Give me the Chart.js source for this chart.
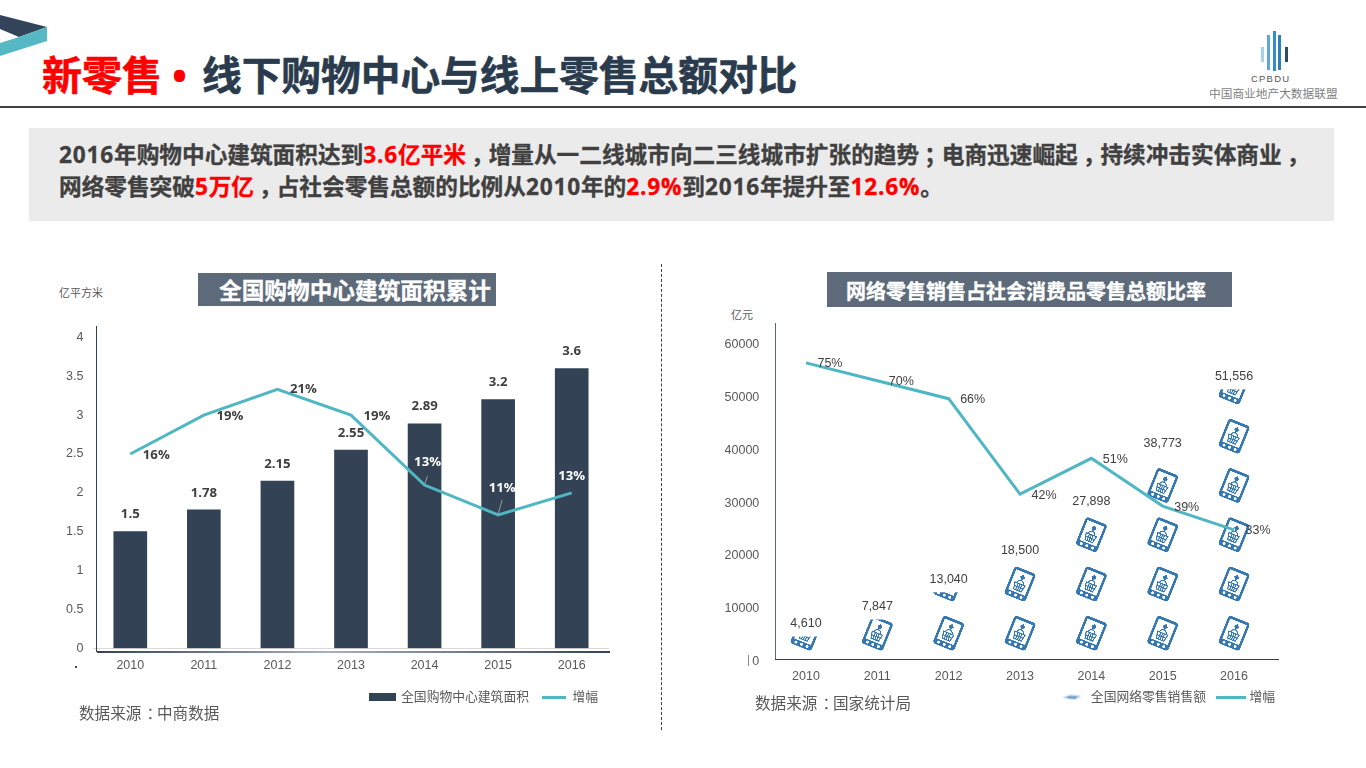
<!DOCTYPE html>
<html lang="zh"><head><meta charset="utf-8">
<script src="https://cdn.jsdelivr.net/npm/chart.js@4"></script>
<style>
html,body{margin:0;padding:0;background:#fff;width:1366px;height:768px;overflow:hidden}
body{position:relative;font-family:"Liberation Sans","Noto Sans CJK SC",sans-serif}
.a{position:absolute;white-space:nowrap}
canvas{position:absolute}
.cjk{font-family:"Open Sans","Noto Sans CJK SC",sans-serif}
.red{color:#ff0000;-webkit-text-stroke:.3px #ff0000}
.b{-webkit-text-stroke:.3px #404040}
.n{letter-spacing:.8px}
.p{position:relative;left:5px}
</style></head><body>
<svg class="a" style="left:0;top:0" width="60" height="60"><polygon points="0,15 47,27 19,37 0,29" fill="#33445a"/><polygon points="47,27 47,41 0,56 0,43 19,37" fill="#55b8c4"/></svg>
<div class="a cjk" style="left:42px;top:47px;font-size:40px;line-height:56px;font-weight:700;color:#ff0000;-webkit-text-stroke:.6px #ff0000">新零售</div>
<div class="a cjk" style="left:172px;top:47px;font-size:40px;line-height:56px;font-weight:700;color:#ff0000">•</div>
<div class="a cjk" style="left:202px;top:47px;font-size:39.7px;line-height:56px;font-weight:700;color:#2a3b4d;-webkit-text-stroke:.6px #2a3b4d">线下购物中心与线上零售总额对比</div>
<div class="a" style="left:0;top:106px;width:1366px;height:2px;background:#404040"></div>

<div class="a" style="left:1261px;top:47px;width:3px;height:15px;background:#a6d2f0"></div>
<div class="a" style="left:1267px;top:35px;width:3px;height:35px;background:#5aa6dd"></div>
<div class="a" style="left:1273px;top:31px;width:3px;height:40px;background:#2f8dd0"></div>
<div class="a" style="left:1278px;top:35px;width:3px;height:35px;background:#2f7fb8"></div>
<div class="a" style="left:1285px;top:47px;width:3px;height:15px;background:#2d4c6a"></div>
<div class="a" style="left:1251px;top:73px;font-size:9.5px;line-height:12px;letter-spacing:1.2px;color:#555">CPBDU</div>
<div class="a cjk" style="left:1209px;top:85px;font-size:11.7px;line-height:16px;color:#7f7f7f">中国商业地产大数据联盟</div>

<div class="a" style="left:29px;top:128px;width:1305px;height:93px;background:#ebebeb"></div>
<div class="a cjk b" style="left:59px;top:138px;font-size:22.67px;line-height:34px;font-weight:700;color:#404040"><span class="n">2016</span>年购物中心建筑面积达到<span class="red"><span class="n">3.6</span>亿平米</span><span class="p">，</span>增量从一二线城市向二三线城市扩张的趋势<span class="p">；</span>电商迅速崛起<span class="p">，</span>持续冲击实体商业<span class="p">，</span></div>
<div class="a cjk b" style="left:59px;top:170px;font-size:22.67px;line-height:34px;font-weight:700;color:#404040">网络零售突破<span class="red"><span class="n">5</span>万亿</span><span class="p">，</span>占社会零售总额的比例从<span class="n">2010</span>年的<span class="red"><span class="n">2.9%</span></span>到<span class="n">2016</span>年提升至<span class="red"><span class="n">12.6%</span></span>。</div>

<div class="a cjk" style="left:198px;top:273px;width:298px;height:33px;padding-left:16px;box-sizing:border-box;background:#5c6a7a;color:#fff;font-size:22.67px;line-height:36px;font-weight:700;text-align:center;-webkit-text-stroke:.3px #fff">全国购物中心建筑面积累计</div>
<div class="a cjk" style="left:827px;top:272px;width:405px;height:35px;padding-right:7px;box-sizing:border-box;background:#5c6a7a;color:#fff;font-size:20px;line-height:39px;font-weight:700;text-align:center;-webkit-text-stroke:.3px #fff">网络零售销售占社会消费品零售总额比率</div>

<div class="a cjk" style="left:59px;top:285px;font-size:11px;line-height:16px;color:#595959">亿平方米</div>
<div class="a cjk" style="left:731px;top:307px;font-size:11px;line-height:16px;color:#595959">亿元</div>

<canvas id="left" width="600" height="400" style="left:40px;top:320px"></canvas>
<canvas id="right" width="620" height="400" style="left:700px;top:320px"></canvas>

<div class="a" style="left:96px;top:326px;width:1px;height:326px;background:#2f4054"></div>
<div class="a" style="left:97px;top:651px;width:513px;height:2px;background:linear-gradient(90deg,#33445a,#a9b1bb 45%,#33445a)"></div>
<div class="a" style="left:75px;top:666px;width:2px;height:2px;background:#444"></div>
<div class="a" style="left:775px;top:323px;width:1px;height:337px;background:#5c6a7a"></div>
<div class="a" style="left:775px;top:659px;width:504px;height:1px;background:#2f4054"></div>
<div class="a" style="left:748px;top:655px;width:1px;height:11px;background:#8a8a8a"></div>
<div class="a" style="left:661px;top:264px;height:466px;border-left:1px dashed #404040"></div>

<div class="a cjk" style="left:79px;top:702px;font-size:15.6px;line-height:22px;color:#595959">数据来源<span class="p">：</span>中商数据</div>
<div class="a cjk" style="left:755px;top:692px;font-size:15.6px;line-height:22px;color:#595959">数据来源<span class="p">：</span>国家统计局</div>

<script>
const years = ['2010','2011','2012','2013','2014','2015','2016'];
const mallArea = [1.5,1.78,2.15,2.55,2.89,3.2,3.6];
const mallGrowth = [16,19,21,19,13.6,11.3,13];
const mallGrowthLabels = ['16%','19%','21%','19%','13%','11%','13%'];
const onlineSales = [4610,7847,13040,18500,27898,38773,51556];
const onlineShare = [75,70.5,66,42,51,39,33];
const onlineShareLabels = ['75%','70%','66%','42%','51%','39%','33%'];
const mallLegend = ['全国购物中心建筑面积','增幅'];
const onlineLegend = ['全国网络零售销售额','增幅'];

const DARK='#334254', TEAL='#4fb7c3', INK='#404040', TICK='#595959', BLUE='#3577b1';
const FONT='"Liberation Sans","Noto Sans CJK SC",sans-serif';
const BOLD='"Open Sans","Noto Sans CJK SC",sans-serif';
Chart.defaults.animation=false;
Chart.defaults.font.family=FONT;

function phone(g,color){
  g.save();g.rotate(22*Math.PI/180);
  g.fillStyle=color;g.beginPath();g.roundRect(-11.5,-15,23,30,3);g.fill();
  g.fillStyle='#fff';g.fillRect(-9,-12.2,18,21.4);
  g.beginPath();for(const x of [-6,0,6]){g.moveTo(x+1.5,12);g.arc(x,12,1.5,0,7);}g.fill();
  g.fillStyle=color;
  g.beginPath();g.moveTo(0,-10);g.lineTo(2.6,-7);g.lineTo(0,-3.5);g.lineTo(-2.6,-7);g.closePath();g.fill();
  g.strokeStyle=color;g.lineWidth=1.1;
  g.beginPath();g.moveTo(-5.5,0);g.lineTo(5.5,0);g.lineTo(4,7);g.lineTo(-4,7);g.closePath();g.stroke();
  g.beginPath();g.moveTo(-2,0);g.lineTo(-2,7);g.moveTo(0,0);g.lineTo(0,7);g.moveTo(2,0);g.lineTo(2,7);g.moveTo(-5,3.5);g.lineTo(5,3.5);g.stroke();
  g.beginPath();g.arc(0,0,3.5,Math.PI,0);g.stroke();
  g.restore();
}
const S=4,TW=286,TH=197;
const tile=document.createElement('canvas');tile.width=TW;tile.height=TH;
{const g=tile.getContext('2d');g.scale(S,S);g.translate(TW/S/2,TH/S-28);
 phone(g,BLUE);g.translate(0,49.25);phone(g,BLUE);}
const phonePattern=tile.getContext('2d').createPattern(tile,'repeat');

function swatch(w,h,draw){const c=document.createElement('canvas');c.width=w;c.height=h;draw(c.getContext('2d'));return c;}
const rectIcon=swatch(27,8,g=>{g.fillStyle=DARK;g.fillRect(0,0,27,8);});
const lineIconS=swatch(24,3,g=>{g.fillStyle=TEAL;g.fillRect(0,0,24,3);});
const lineIconL=swatch(30,3,g=>{g.fillStyle=TEAL;g.fillRect(0,0,30,3);});
const phoneIcon=swatch(20,6,g=>{g.fillStyle='#a9c6e3';g.beginPath();g.moveTo(0,3);g.lineTo(8,.5);g.lineTo(19,1.5);g.lineTo(12,5.5);g.closePath();g.fill();g.fillStyle=BLUE;g.fillRect(5,2.5,9,1);});

const patternAlign={id:'patternAlign',beforeDatasetsDraw(chart){
  if(!chart.options.plugins.patternAlign.on)return;
  const m=chart.getDatasetMeta(1).data,a=chart.chartArea;
  const step=(a.right-a.left)/years.length;
  phonePattern.setTransform(new DOMMatrix().translate(m[0].x-step/2,m[0].base-TH/S).scale(step/TW,1/S));
}};
const valueLabels={id:'valueLabels',afterDatasetsDraw(chart,_,o){
  const g=chart.ctx,bars=chart.getDatasetMeta(1).data,line=chart.getDatasetMeta(0).data;
  g.save();g.textAlign='center';g.textBaseline='middle';
  bars.forEach((b,i)=>{g.font=o.barFont;g.fillStyle=INK;g.fillText(o.barText[i],b.x,b.y+o.barDy);});
  line.forEach((p,i)=>{const[dx,dy,c]=o.lineOffsets[i];
    if(o.leaders&&o.leaders[i]){g.strokeStyle='#9a9a9a';g.lineWidth=1;g.beginPath();g.moveTo(p.x,p.y-1);g.lineTo(p.x+o.leaders[i][0],p.y+o.leaders[i][1]);g.stroke();}
    g.font=o.lineFont;g.fillStyle=c||INK;g.fillText(o.lineText[i],p.x+dx,p.y+dy);});
  g.restore();
}};
const legendPlace={id:'legendPlace',afterLayout(chart,_,o){const l=chart.legend;l.left=0;l.top=o.top;l.right=o.right;l.bottom=chart.height;}};
Chart.register(patternAlign,valueLabels,legendPlace);

function legendOpts(names,icons,pad){return{position:'bottom',align:'end',labels:{usePointStyle:true,pointStyleWidth:24,padding:pad,color:TICK,font:{size:12.8,family:FONT},
  generateLabels:()=>names.map((t,i)=>({text:t,pointStyle:icons[i],fontColor:TICK,datasetIndex:i,hidden:false,lineWidth:0}))}};}
const xScale=(pad,h)=>({offset:true,grid:{display:false,drawTicks:false},ticks:{padding:pad,color:TICK,font:{size:12.5}},afterFit:s=>{s.height=h;}});
const plainTick=v=>String(v);

new Chart(document.getElementById('left'),{type:'bar',data:{labels:years,datasets:[
  {type:'line',label:mallLegend[1],data:mallGrowth,yAxisID:'y1',borderColor:TEAL,borderWidth:3,pointRadius:0,tension:0,order:0},
  {type:'bar',label:mallLegend[0],data:mallArea,yAxisID:'y',backgroundColor:DARK,barThickness:33,order:1}
]},options:{responsive:false,layout:{padding:{left:0,right:31.5,top:14,bottom:6}},
 scales:{x:Object.assign(xScale(10,30),{border:{color:'#d9d9d9'}}),
  y:{min:0,max:4,grid:{display:false,drawTicks:false},border:{display:false},ticks:{stepSize:.5,padding:10,color:TICK,font:{size:12.5},callback:plainTick},afterFit:s=>{s.width=53.5;}},
  y1:{display:false,min:1,max:25}},
 plugins:{legend:legendOpts(mallLegend,[rectIcon,lineIconS],13),tooltip:{enabled:false},patternAlign:{on:false},
  legendPlace:{top:358,right:571},
  valueLabels:{barFont:'700 13.2px '+BOLD,barText:mallArea.map(String),barDy:-17,lineFont:'700 13.2px '+BOLD,lineText:mallGrowthLabels,
   lineOffsets:[[26,1],[26,1],[26,0],[26,1],[3,-23,'#fff'],[4,-27,'#fff'],[0,-17,'#fff']],leaders:{4:[3,-9],5:[4,-15]}}}}});

new Chart(document.getElementById('right'),{type:'bar',data:{labels:years,datasets:[
  {type:'line',label:onlineLegend[1],data:onlineShare,yAxisID:'y1',borderColor:TEAL,borderWidth:3,pointRadius:0,tension:0,order:0},
  {type:'bar',label:onlineLegend[0],data:onlineSales,yAxisID:'y',backgroundColor:phonePattern,barThickness:38,order:1}
]},options:{responsive:false,layout:{padding:{left:0,right:50.3,top:25,bottom:0}},
 scales:{x:Object.assign(xScale(8,23),{border:{display:false}}),
  y:{min:0,max:60000,grid:{display:false,drawTicks:false},border:{display:false},ticks:{stepSize:10000,padding:11,color:TICK,font:{size:12.5},callback:plainTick},afterFit:s=>{s.width=70.3;}},
  y1:{display:false,min:0,max:79.5}},
 plugins:{legend:legendOpts(onlineLegend,[phoneIcon,lineIconL],13),tooltip:{enabled:false},patternAlign:{on:true},
  legendPlace:{top:358,right:588},
  valueLabels:{barFont:'12.5px '+FONT,barText:onlineSales.map(v=>v.toLocaleString('en-US')),barDy:-13,lineFont:'12.5px '+FONT,lineText:onlineShareLabels,
   lineOffsets:onlineShare.map(()=>[24,1])}}}});
</script>
</body></html>
